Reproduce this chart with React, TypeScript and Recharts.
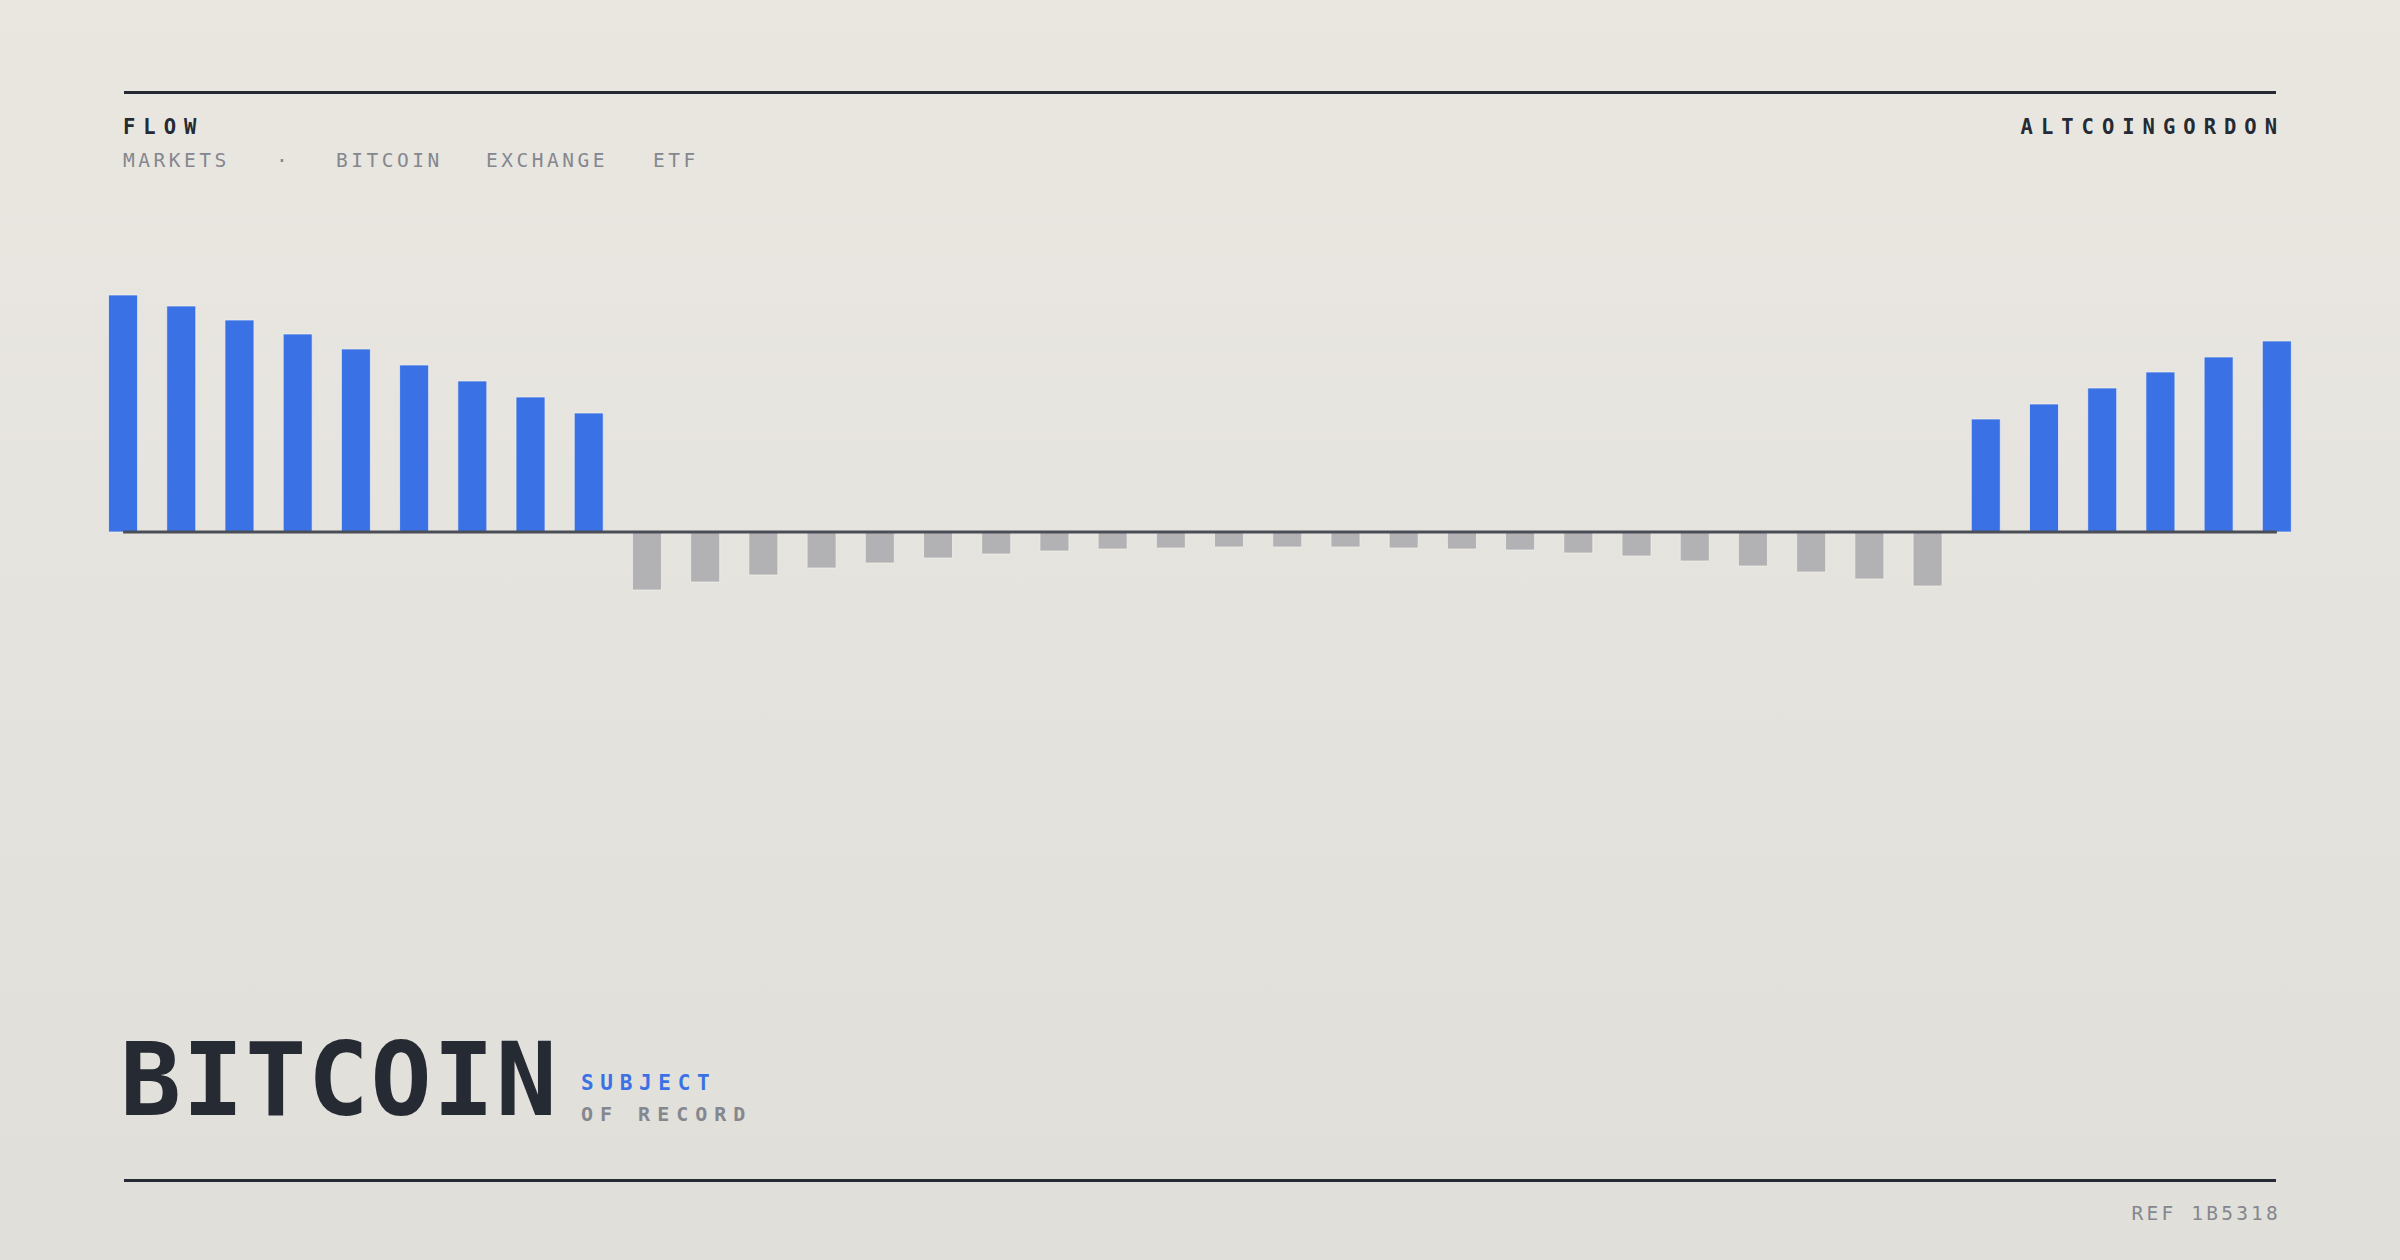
import { BarChart, Bar, XAxis, YAxis, Cell, ReferenceLine } from "recharts";

// one bar per session, left to right
const periods = [
    "D01", "D02", "D03", "D04", "D05", "D06", "D07", "D08", "D09", "D10",
    "D11", "D12", "D13", "D14", "D15", "D16", "D17", "D18", "D19", "D20",
    "D21", "D22", "D23", "D24", "D25", "D26", "D27", "D28", "D29", "D30",
    "D31", "D32", "D33", "D34", "D35", "D36", "D37", "D38",
];

// net flow per session (positive = inflow, negative = outflow)
const netFlows = [
    237, 226, 212, 198, 183, 167, 151, 135, 119,
    -58, -50, -43, -36, -31, -26, -22, -19, -17, -16, -15, -15,
    -15, -16, -17, -18, -21, -24, -29, -34, -40, -47, -54,
    113, 128, 144, 160, 175, 191,
];

const topicTags = ["MARKETS", "·", "BITCOIN", "EXCHANGE", "ETF"];
const tagLefts = [123, 276, 336, 486, 653];

const INK = "#262a33";
const MUTED = "#85878f";
const BLUE = "#3a72e6";
const GREY = "#b2b2b4";
const MONO = '"DejaVu Sans Mono", "Liberation Mono", monospace';

const data = periods.map((p, i) => ({ period: p, flow: netFlows[i] }));

const rule = (top: number) => (
    <div
        style={{
            position: "absolute",
            left: 124,
            width: 2152,
            top,
            height: 3,
            background: INK,
        }}
    />
);

const App = () => {
    return (
        <div
            style={{
                position: "absolute",
                left: 0,
                top: 0,
                width: 2400,
                height: 1260,
                overflow: "hidden",
                fontFamily: MONO,
                background: "linear-gradient(180deg, #eae7e1 0%, #e0dfda 100%)",
            }}
        >
            {rule(91)}

            <div
                style={{
                    position: "absolute",
                    left: 123,
                    top: 117,
                    fontSize: 20.5,
                    lineHeight: 1,
                    fontWeight: 700,
                    letterSpacing: 8,
                    color: INK,
                }}
            >
                FLOW
            </div>
            <div
                style={{
                    position: "absolute",
                    right: 115,
                    top: 117,
                    fontSize: 20.5,
                    lineHeight: 1,
                    fontWeight: 700,
                    letterSpacing: 8,
                    color: INK,
                }}
            >
                ALTCOINGORDON
            </div>

            {topicTags.map((t, i) => (
                <div
                    key={t}
                    style={{
                        position: "absolute",
                        left: tagLefts[i],
                        top: 151,
                        fontSize: 19.5,
                        lineHeight: 1,
                        letterSpacing: 3.5,
                        color: MUTED,
                    }}
                >
                    {t}
                </div>
            ))}

            <div style={{ position: "absolute", left: 94, top: 232 }}>
                <BarChart
                    width={2212}
                    height={400}
                    data={data}
                    margin={{ top: 0, right: 0, bottom: 0, left: 0 }}
                    barCategoryGap="25%"
                >
                    <XAxis dataKey="period" hide />
                    <YAxis hide domain={[-100, 300]} />
                    <Bar
                        dataKey="flow"
                        isAnimationActive={false}
                        stroke="#f3f1ec"
                        strokeOpacity={0.7}
                        strokeWidth={1}
                    >
                        {data.map((d) => (
                            <Cell
                                key={d.period}
                                fill={d.flow >= 0 ? BLUE : GREY}
                            />
                        ))}
                    </Bar>
                    <ReferenceLine
                        segment={[
                            { x: periods[0], y: 0 },
                            { x: periods[periods.length - 1], y: 0 },
                        ]}
                        stroke="#4b4e56"
                        strokeWidth={3}
                    />
                </BarChart>
            </div>

            <div
                style={{
                    position: "absolute",
                    left: 120,
                    top: 1030,
                    fontSize: 101.5,
                    lineHeight: 1,
                    fontWeight: 700,
                    letterSpacing: 1.5,
                    color: INK,
                }}
            >
                BITCOIN
            </div>
            <div
                style={{
                    position: "absolute",
                    left: 581,
                    top: 1072.5,
                    fontSize: 21,
                    lineHeight: 1,
                    fontWeight: 700,
                    letterSpacing: 6.7,
                    color: BLUE,
                }}
            >
                SUBJECT
            </div>
            <div
                style={{
                    position: "absolute",
                    left: 581,
                    top: 1103.5,
                    fontSize: 20,
                    lineHeight: 1,
                    fontWeight: 700,
                    letterSpacing: 7,
                    color: MUTED,
                }}
            >
                OF RECORD
            </div>

            {rule(1179)}

            <div
                style={{
                    position: "absolute",
                    right: 119,
                    top: 1203.5,
                    fontSize: 19.5,
                    lineHeight: 1,
                    letterSpacing: 3.2,
                    color: MUTED,
                }}
            >
                REF 1B5318
            </div>
        </div>
    );
};

export default App;
